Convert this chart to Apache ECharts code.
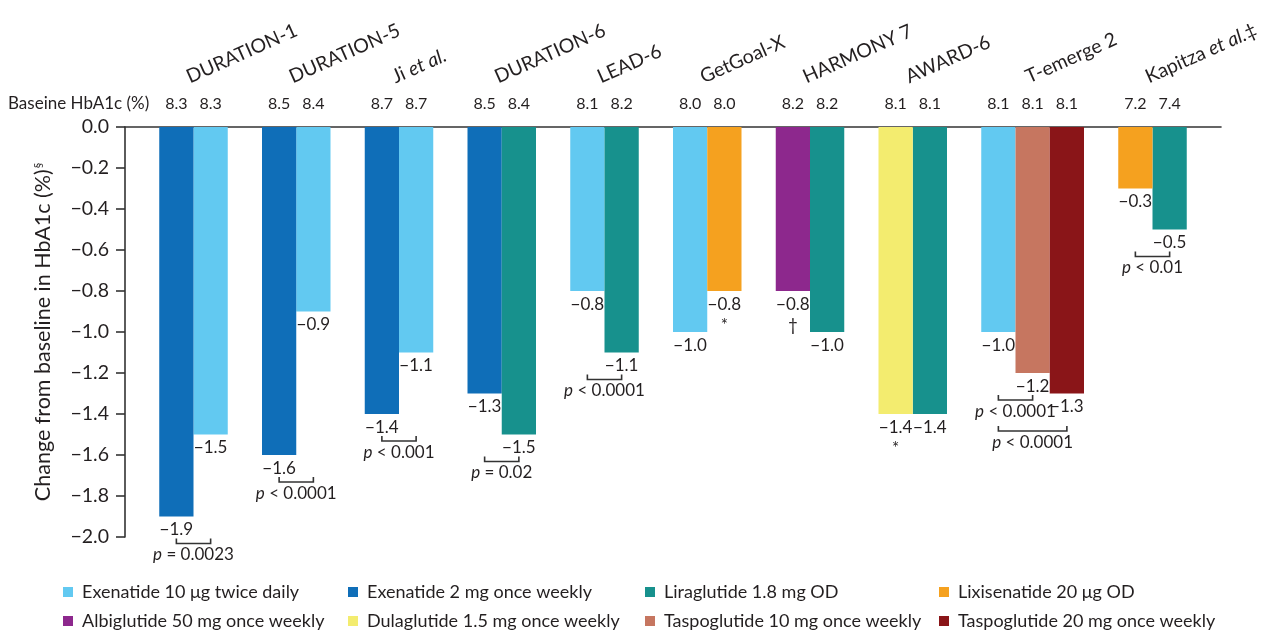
<!DOCTYPE html>
<html>
<head>
<meta charset="utf-8">
<script src="https://cdn.jsdelivr.net/npm/echarts@6/dist/echarts.min.js"></script>
<style>
  html, body { margin: 0; padding: 0; background: #fff; }
  #chart { width: 1265px; height: 636px; }
</style>
</head>
<body>
<div id="chart"></div>
<script>
// ---- data ----
const trials = ['DURATION-1', 'DURATION-5', 'Ji et al.', 'DURATION-6', 'LEAD-6', 'GetGoal-X', 'HARMONY 7', 'AWARD-6', 'T-emerge 2', 'Kapitza et al.‡'];
const treatments = [
  'Exenatide 10 μg twice daily',
  'Exenatide 2 mg once weekly',
  'Liraglutide 1.8 mg OD',
  'Lixisenatide 20 μg OD',
  'Albiglutide 50 mg once weekly',
  'Dulaglutide 1.5 mg once weekly',
  'Taspoglutide 10 mg once weekly',
  'Taspoglutide 20 mg once weekly'
];
// arms of each trial, as indexes into treatments (left to right)
const trialArms = [[1, 0], [1, 0], [1, 0], [1, 2], [0, 2], [0, 3], [4, 2], [5, 2], [0, 6, 7], [3, 2]];
const hba1cChange = [[-1.9, -1.5], [-1.6, -0.9], [-1.4, -1.1], [-1.3, -1.5], [-0.8, -1.1], [-1.0, -0.8], [-0.8, -1.0], [-1.4, -1.4], [-1.0, -1.2, -1.3], [-0.3, -0.5]];
const baselineHbA1c = [[8.3, 8.3], [8.5, 8.4], [8.7, 8.7], [8.5, 8.4], [8.1, 8.2], [8.0, 8.0], [8.2, 8.2], [8.1, 8.1], [8.1, 8.1, 8.1], [7.2, 7.4]];
const armNotes = [['', ''], ['', ''], ['', ''], ['', ''], ['', ''], ['', '*'], ['†', ''], ['*', ''], ['', '', ''], ['', '']];
// [trial, arm A, arm B, p-value, index of the comparison this one sits under (-1 = none)]
const comparisons = [
  [0, 0, 1, '= 0.0023', -1],
  [1, 0, 1, '< 0.0001', -1],
  [2, 0, 1, '< 0.001', -1],
  [3, 0, 1, '= 0.02', -1],
  [4, 0, 1, '< 0.0001', -1],
  [8, 0, 1, '< 0.0001', -1],
  [8, 0, 2, '< 0.0001', 5],
  [9, 0, 1, '< 0.01', -1]
];
// legend layout: two rows of four treatments
const legendRows = [[0, 1, 2, 3], [4, 5, 6, 7]];

// ---- styles ----
const palette = ['#62C9F1', '#0F6EB8', '#17918D', '#F5A11F', '#8D288D', '#F3EC6F', '#C67660', '#8A1518'];
const FONT = 'Lato, "Open Sans", sans-serif';
const INK = '#231f20';
const legendTextX = [82, 367, 664, 958];
const legendRowY = [583, 612];

// one slot per bar, with an empty slot before each trial and after the last
const slots = [{ gap: true }];
const slotOf = trials.map(() => []);
trials.forEach((t, g) => {
  trialArms[g].forEach((tr, k) => {
    slotOf[g][k] = slots.length;
    slots.push({ g, k, tr, v: hba1cChange[g][k], base: baselineHbA1c[g][k], note: armNotes[g][k] });
  });
  slots.push({ gap: true });
});

const minus = v => (v < 0 ? '\u2212' : '') + Math.abs(v).toFixed(1);

const barSeries = treatments.map((name, ti) => ({
  type: 'bar',
  name,
  barWidth: '100%',
  barGap: '-100%',
  itemStyle: { color: palette[ti] },
  data: slots.map(s => (!s.gap && s.tr === ti) ? s.v : '-'),
  label: {
    show: true,
    position: 'bottom',
    distance: 3,
    fontFamily: FONT,
    fontSize: 17,
    lineHeight: 21,
    color: INK,
    formatter: p => minus(p.value) + (slots[p.dataIndex].note ? '\n' + slots[p.dataIndex].note : '')
  },
  z: 2
}));

function lowerValue(c) {
  return Math.min(hba1cChange[c[0]][c[1]], hba1cChange[c[0]][c[2]]);
}
function bracketY(i, api) {
  const c = comparisons[i];
  let y = api.coord([slotOf[c[0]][c[1]], lowerValue(c)])[1] + 27;
  if (c[4] >= 0) y = Math.max(y, bracketY(c[4], api) + 31);
  return y;
}

const bracketSeries = {
  type: 'custom',
  silent: true,
  clip: false,
  z: 5,
  data: comparisons.map(c => [slotOf[c[0]][c[1]], lowerValue(c), slotOf[c[0]][c[2]]]),
  renderItem: (params, api) => {
    const i = params.dataIndex;
    const y = bracketY(i, api);
    const xa = api.coord([api.value(0), 0])[0];
    const xb = api.coord([api.value(2), 0])[0];
    return {
      type: 'group',
      children: [
        {
          type: 'polyline',
          shape: { points: [[xa, y - 5], [xa, y], [xb, y], [xb, y - 5]] },
          style: { stroke: '#333', lineWidth: 1.6, fill: null }
        },
        {
          type: 'text',
          x: (xa + xb) / 2,
          y: y + 3,
          style: {
            text: '{i|p} ' + comparisons[i][3],
            align: 'center',
            verticalAlign: 'top',
            fontFamily: FONT,
            fontSize: 17,
            fill: INK,
            rich: { i: { fontStyle: 'italic', fontFamily: FONT, fontSize: 17, fill: INK } }
          }
        }
      ]
    };
  }
};

const titleSeries = {
  type: 'custom',
  silent: true,
  clip: false,
  z: 5,
  data: trials.map((t, g) => [slotOf[g][0], 0, slotOf[g][slotOf[g].length - 1]]),
  renderItem: (params, api) => {
    const a = api.coord([api.value(0), 0]);
    const b = api.coord([api.value(2), 0]);
    const x = (a[0] + b[0]) / 2;
    return {
      type: 'text',
      x: x - 2,
      y: a[1] - 40,
      rotation: 24 * Math.PI / 180,
      style: {
        text: trials[params.dataIndex].replace('et al.', '{i|et al.}'),
        align: 'left',
        verticalAlign: 'bottom',
        fontFamily: FONT,
        fontSize: 19.5,
        fill: INK,
        rich: { i: { fontStyle: 'italic', fontFamily: FONT, fontSize: 19.5, fill: INK } }
      }
    };
  }
};

const legends = [];
legendRows.forEach((row, r) => {
  row.forEach((ti, c) => {
    legends.push({
      orient: 'horizontal',
      left: legendTextX[c] - 19,
      top: legendRowY[r],
      padding: 0,
      itemWidth: 10,
      itemHeight: 10,
      icon: 'rect',
      selectedMode: false,
      textStyle: { fontFamily: FONT, fontSize: 18, color: INK, padding: [0, 0, 0, 4] },
      data: [treatments[ti]]
    });
  });
});

const chart = echarts.init(document.getElementById('chart'));
chart.setOption({
  animation: false,
  backgroundColor: '#fff',
  textStyle: { fontFamily: FONT, color: INK },
  grid: { left: 125, right: 44, top: 127, bottom: 99, containLabel: false },
  legend: legends,
  graphic: [{
    type: 'text',
    left: 8,
    top: 95,
    style: { text: 'Baseine HbA1c (%)', fontFamily: FONT, fontSize: 17, fill: INK }
  }],
  xAxis: {
    type: 'category',
    position: 'top',
    data: slots.map((s, i) => String(i)),
    axisLine: { lineStyle: { color: '#333', width: 1.6 } },
    axisTick: { show: false },
    axisLabel: {
      interval: 0,
      margin: 15,
      fontFamily: FONT,
      fontSize: 16,
      color: INK,
      formatter: (v, i) => slots[i].gap ? '' : slots[i].base.toFixed(1)
    },
    splitLine: { show: false }
  },
  yAxis: {
    type: 'value',
    min: -2,
    max: 0,
    interval: 0.2,
    name: '{a|Change from baseline in HbA1c (%)}{s|§}',
    nameLocation: 'middle',
    nameGap: 71,
    nameRotate: 90,
    nameTextStyle: {
      rich: {
        a: { fontFamily: FONT, fontSize: 21.5, color: INK },
        s: { fontFamily: FONT, fontSize: 11, color: INK, padding: [0, 0, 10, 1] }
      }
    },
    axisLine: { show: true, lineStyle: { color: '#333', width: 1.6 } },
    axisTick: { show: true, length: 9, lineStyle: { color: '#333', width: 1.6 } },
    axisLabel: { margin: 16, fontFamily: FONT, fontSize: 19.5, color: INK, formatter: v => minus(v) },
    splitLine: { show: false }
  },
  series: [...barSeries, bracketSeries, titleSeries]
});
</script>
</body>
</html>
